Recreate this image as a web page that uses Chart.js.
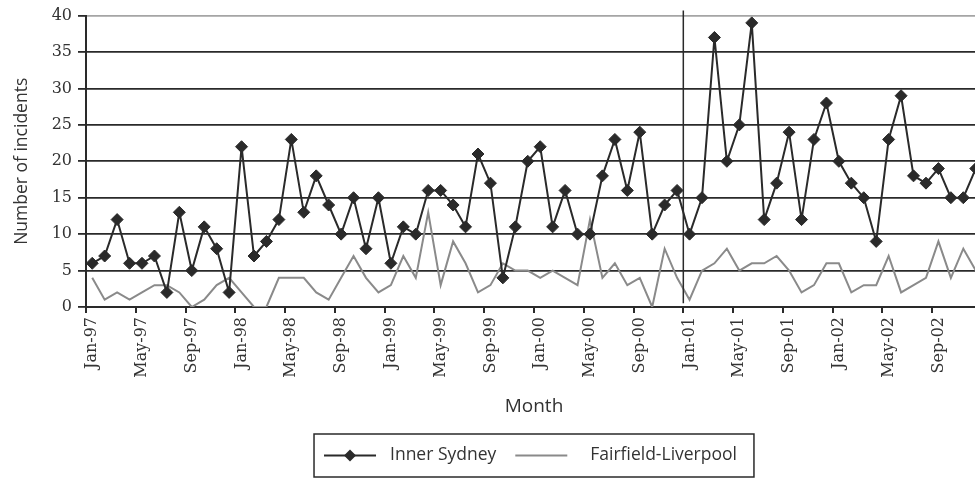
<!DOCTYPE html>
<html>
<head>
<meta charset="utf-8">
<script src="https://cdn.jsdelivr.net/npm/chart.js@4.4.1/dist/chart.umd.min.js"></script>
<style>
  html, body { margin: 0; padding: 0; background: #fff; overflow: hidden; }
  /* plot runs a little past the right edge, like the original crop */
  #wrap { position: relative; width: 999px; height: 478px; }
</style>
</head>
<body>
<div id="wrap"><canvas id="incidentsChart"></canvas></div>
<script>
const monthNames = ['Jan', 'Feb', 'Mar', 'Apr', 'May', 'Jun', 'Jul', 'Aug', 'Sep', 'Oct', 'Nov', 'Dec'];
const years = ['97', '98', '99', '00', '01', '02'];
const categories = years.flatMap(y => monthNames.map(m => m + '-' + y));

const innerSydney = [
  6, 7, 12, 6, 6, 7, 2, 13, 5, 11, 8, 2,
  22, 7, 9, 12, 23, 13, 18, 14, 10, 15, 8, 15,
  6, 11, 10, 16, 16, 14, 11, 21, 17, 4, 11, 20,
  22, 11, 16, 10, 10, 18, 23, 16, 24, 10, 14, 16,
  10, 15, 37, 20, 25, 39, 12, 17, 24, 12, 23, 28,
  20, 17, 15, 9, 23, 29, 18, 17, 19, 15, 15, 19
];
const fairfieldLiverpool = [
  4, 1, 2, 1, 2, 3, 3, 2, 0, 1, 3, 4,
  2, 0, 0, 4, 4, 4, 2, 1, 4, 7, 4, 2,
  3, 7, 4, 13, 3, 9, 6, 2, 3, 6, 5, 5,
  4, 5, 4, 3, 12, 4, 6, 3, 4, 0, 8, 4,
  1, 5, 6, 8, 5, 6, 6, 7, 5, 2, 3, 6,
  6, 2, 3, 3, 7, 2, 3, 4, 9, 4, 8, 5
];
const yMax = 40;
const yStep = 5;
const labelEvery = 4;
const breakBefore = 'Jan-01';

const ink = '#2a2a2a';
const grey = '#8a8a8a';
const sansFont = '"Open Sans", "DejaVu Sans", sans-serif';
const serifFont = '"DejaVu Serif", "Liberation Serif", serif';

// vertical marker between Dec-00 and Jan-01
const breakLine = {
  id: 'breakLine',
  afterDatasetsDraw(chart) {
    const {ctx, scales: {x, y}} = chart;
    const i = categories.indexOf(breakBefore);
    const px = (x.getPixelForValue(i - 1) + x.getPixelForValue(i)) / 2;
    ctx.save();
    ctx.strokeStyle = ink;
    ctx.lineWidth = 1.5;
    ctx.beginPath();
    ctx.moveTo(px, y.getPixelForValue(yMax + 0.7));
    ctx.lineTo(px, y.getPixelForValue(0.5));
    ctx.stroke();
    ctx.restore();
  }
};

// legend in a box under the axis title
const boxedLegend = {
  id: 'boxedLegend',
  afterDraw(chart) {
    const {ctx, chartArea} = chart;
    const ds = chart.data.datasets;
    ctx.save();
    ctx.font = '17.5px ' + sansFont;
    const w0 = ctx.measureText(ds[0].label).width;
    const w1 = ctx.measureText(ds[1].label).width;
    const sample = 52;
    const total = 10 + sample + 14 + w0 + 19 + sample + 23 + w1 + 17;
    const boxH = 43;
    const top = chart.height - boxH - 1;
    const cy = top + boxH / 2;
    let x = (chartArea.left + chartArea.right) / 2 - total / 2;

    ctx.strokeStyle = ink;
    ctx.lineWidth = 1.5;
    ctx.strokeRect(x, top, total, boxH);

    x += 10;
    ctx.strokeStyle = ds[0].borderColor;
    ctx.lineWidth = 2;
    ctx.beginPath();
    ctx.moveTo(x, cy);
    ctx.lineTo(x + sample, cy);
    ctx.stroke();
    const mx = x + sample / 2, r = 6;
    ctx.fillStyle = ds[0].pointBackgroundColor;
    ctx.beginPath();
    ctx.moveTo(mx, cy - r);
    ctx.lineTo(mx + r, cy);
    ctx.lineTo(mx, cy + r);
    ctx.lineTo(mx - r, cy);
    ctx.closePath();
    ctx.fill();
    x += sample + 14;

    ctx.fillStyle = '#333';
    ctx.textBaseline = 'middle';
    ctx.fillText(ds[0].label, x, cy);
    x += w0 + 19;

    ctx.strokeStyle = ds[1].borderColor;
    ctx.beginPath();
    ctx.moveTo(x, cy);
    ctx.lineTo(x + sample, cy);
    ctx.stroke();
    x += sample + 23;
    ctx.fillText(ds[1].label, x, cy);
    ctx.restore();
  }
};

const ctx = document.getElementById('incidentsChart').getContext('2d');
const incidentsChart = new Chart(ctx, {
  type: 'line',
  data: {
    labels: categories,
    datasets: [
      {
        label: 'Inner Sydney',
        data: innerSydney,
        borderColor: ink,
        borderWidth: 2,
        pointStyle: 'rectRot',
        pointRadius: 6,
        pointBackgroundColor: ink,
        pointBorderColor: ink,
        pointBorderWidth: 1,
        tension: 0,
        order: 1
      },
      {
        label: 'Fairfield-Liverpool',
        data: fairfieldLiverpool,
        borderColor: grey,
        borderWidth: 2,
        pointRadius: 0,
        tension: 0,
        order: 2
      }
    ]
  },
  options: {
    responsive: true,
    maintainAspectRatio: false,
    animation: false,
    layout: { padding: { top: 15, right: 5.5, bottom: 60, left: 0 } },
    plugins: {
      legend: { display: false },
      tooltip: { enabled: false }
    },
    scales: {
      x: {
        type: 'category',
        offset: true,
        afterFit: scale => { scale.height = 111; },
        border: { color: ink, width: 2 },
        grid: {
          offset: true,
          drawOnChartArea: false,
          tickLength: 6,
          lineWidth: 2,
          tickColor: c => (c.index % labelEvery === 0 ? ink : 'rgba(0,0,0,0)')
        },
        ticks: {
          autoSkip: false,
          maxRotation: 90,
          minRotation: 90,
          padding: 4,
          color: '#333',
          font: { family: serifFont, size: 16 },
          callback: (v, i) => (i % labelEvery === 0 ? categories[i] : '')
        },
        title: {
          display: true,
          text: 'Month',
          color: '#333',
          padding: { top: 0, bottom: 0 },
          font: { family: sansFont, size: 19 }
        }
      },
      y: {
        min: 0,
        max: yMax,
        afterFit: scale => { scale.width = 86; },
        border: { color: ink, width: 2 },
        grid: {
          color: c => (c.tick.value === yMax ? '#a5a5a5' : ink),
          lineWidth: 1.8,
          tickLength: 8,
          tickColor: ink
        },
        ticks: {
          stepSize: yStep,
          padding: 6,
          color: '#333',
          font: { family: serifFont, size: 16 }
        },
        title: {
          display: true,
          text: 'Number of incidents',
          color: '#333',
          padding: { top: 12, bottom: 0 },
          font: { family: sansFont, size: 17.5 }
        }
      }
    }
  },
  plugins: [breakLine, boxedLegend]
});
</script>
</body>
</html>
